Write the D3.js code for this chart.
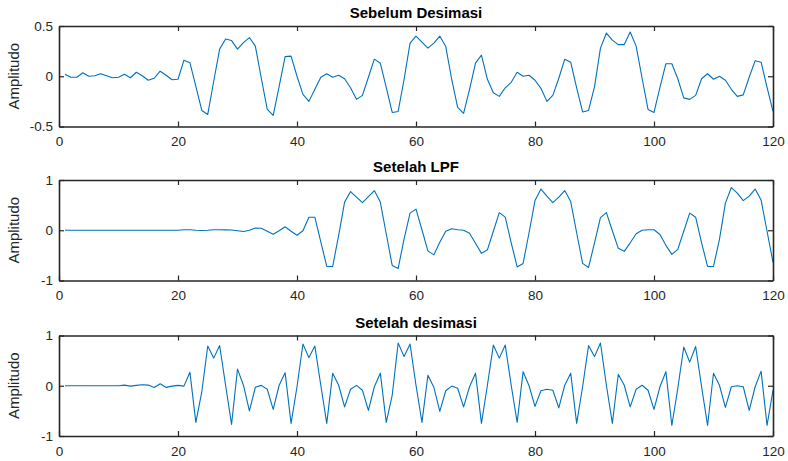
<!DOCTYPE html>
<html>
<head>
<meta charset="utf-8">
<script src="https://cdn.jsdelivr.net/npm/d3@7/dist/d3.min.js"></script>
<style>
  html, body { margin: 0; padding: 0; background: #ffffff; }
  svg { display: block; }
</style>
</head>
<body>
<svg id="chart" width="788" height="461"></svg>
<script>
// ---------- DATA ----------
const xTicks = [0, 20, 40, 60, 80, 100, 120];
const titles = ["Sebelum Desimasi", "Setelah LPF", "Setelah desimasi"];
const yLabel = "Amplitudo";
const yTicks1 = [-0.5, 0, 0.5];
const yTicks2 = [-1, 0, 1];
const yTicks3 = [-1, 0, 1];

const sebelum = [
  0.02, -0.01, -0.01, 0.035, 0.0, 0.005, 0.025, 0.005, -0.015, -0.01,
  0.02, -0.015, 0.04, 0.005, -0.04, -0.02, 0.05, 0.01, -0.035, -0.03,
  0.16, 0.135, -0.1, -0.34, -0.38, -0.05, 0.27, 0.37, 0.355, 0.27,
  0.335, 0.385, 0.3, -0.02, -0.33, -0.39, -0.1, 0.195, 0.2, 0.0,
  -0.18, -0.25, -0.13, -0.01, 0.025, -0.01, 0.01, -0.025, -0.115, -0.23,
  -0.19, -0.01, 0.17, 0.13, -0.11, -0.36, -0.35, -0.03, 0.33, 0.4,
  0.34, 0.28, 0.33, 0.4, 0.295, -0.03, -0.31, -0.37, -0.13, 0.13,
  0.21, -0.03, -0.165, -0.2, -0.115, -0.06, 0.04, 0.0, 0.01, -0.04,
  -0.12, -0.25, -0.19, -0.02, 0.17, 0.14, -0.115, -0.355, -0.34, -0.105,
  0.28, 0.43, 0.36, 0.315, 0.315, 0.44, 0.3, -0.02, -0.33, -0.36,
  -0.11, 0.125, 0.125, -0.025, -0.215, -0.23, -0.19, -0.025, 0.025, -0.03,
  0.0, -0.04, -0.13, -0.2, -0.185, -0.01, 0.155, 0.14, -0.11, -0.35
];

const setelahLPF = [
  0, 0, 0, 0, 0, 0, 0, 0, 0, 0,
  0, 0, 0, 0, 0, 0, 0, 0, 0.0, 0.0,
  0.01, 0.01, 0.0, -0.005, 0.0, 0.01, 0.01, 0.008, 0.005, -0.01,
  -0.025, 0.0, 0.045, 0.04, -0.02, -0.08, -0.01, 0.07, -0.02, -0.1,
  -0.01, 0.26, 0.26, -0.23, -0.72, -0.72, -0.1, 0.56, 0.77, 0.66,
  0.55, 0.67, 0.79, 0.56, -0.07, -0.70, -0.76, -0.17, 0.34, 0.42,
  0.01, -0.41, -0.49, -0.24, -0.02, 0.03, 0.01, 0.0, -0.06, -0.26,
  -0.46, -0.39, -0.02, 0.35, 0.26, -0.25, -0.73, -0.66, -0.05, 0.59,
  0.82, 0.68, 0.55, 0.66, 0.79, 0.57, -0.05, -0.66, -0.74, -0.25,
  0.25, 0.35, -0.01, -0.36, -0.42, -0.25, -0.07, 0.0, 0.01, 0.01,
  -0.085, -0.3, -0.48, -0.38, -0.02, 0.34, 0.26, -0.25, -0.72, -0.72,
  -0.18, 0.54, 0.85, 0.74, 0.59, 0.68, 0.82, 0.6, -0.02, -0.64
];

const setelahDesimasi = [
  0, 0, 0, 0, 0, 0, 0, 0, 0, 0,
  0.013, -0.007, 0.007, 0.02, 0.013, -0.033, 0.04, -0.033, -0.007, 0.007,
  -0.007, 0.27, -0.73, -0.12, 0.79, 0.55, 0.8, 0.01, -0.77, 0.33,
  0.01, -0.5, -0.03, 0.007, -0.07, -0.47, 0.01, 0.26, -0.75, -0.02,
  0.83, 0.56, 0.79, 0.01, -0.75, 0.25, 0.01, -0.42, -0.07, 0.007,
  -0.09, -0.49, -0.02, 0.25, -0.73, -0.19, 0.85, 0.58, 0.83, 0.01,
  -0.73, 0.21, -0.03, -0.51, -0.1, -0.007, -0.05, -0.42, -0.02, 0.25,
  -0.75, 0.01, 0.81, 0.55, 0.81, 0.01, -0.73, 0.28, 0.0, -0.41,
  -0.1, -0.07, -0.09, -0.44, 0.01, 0.25, -0.75, -0.02, 0.8, 0.58,
  0.85, 0.01, -0.75, 0.23, 0.01, -0.42, -0.07, 0.01, -0.09, -0.47,
  -0.02, 0.28, -0.79, -0.05, 0.77, 0.47, 0.78, -0.02, -0.79, 0.25,
  0.01, -0.43, -0.02, 0.0, -0.02, -0.49, -0.02, 0.29, -0.79, -0.09
];

// ---------- LAYOUT ----------
const W = 788, H = 461;
const left = 59, right = 773;
const panelTops = [26, 180, 335.5];
const panelH = 100.5;
const axisColor = "#262626";
const lineColor = "#0072BD";
const fontFam = "'Liberation Sans', Arial, Helvetica, sans-serif";

const panels = [
  { title: titles[0], data: sebelum, yDomain: [-0.5, 0.5], yTicks: yTicks1 },
  { title: titles[1], data: setelahLPF, yDomain: [-1, 1], yTicks: yTicks2 },
  { title: titles[2], data: setelahDesimasi, yDomain: [-1, 1], yTicks: yTicks3 }
];

const svg = d3.select("#chart");
svg.append("rect").attr("width", W).attr("height", H).attr("fill", "#fff");

const x = d3.scaleLinear().domain([0, 120]).range([left, right]);
const fmt = d => String(d);

panels.forEach((p, i) => {
  const top = panelTops[i], bottom = top + panelH;
  const y = d3.scaleLinear().domain(p.yDomain).range([bottom, top]);
  const g = svg.append("g");

  // line
  const line = d3.line().x((d, k) => x(k + 1)).y(d => y(d));
  g.append("path")
    .datum(p.data)
    .attr("d", line)
    .attr("fill", "none")
    .attr("stroke", lineColor)
    .attr("stroke-width", 1.1)
    .attr("stroke-linejoin", "round");

  // axes
  const styleAxis = sel => {
    sel.selectAll(".domain").attr("stroke", axisColor).attr("stroke-width", 1.6);
    sel.selectAll(".tick line").attr("stroke", axisColor).attr("stroke-width", 1.2);
    sel.selectAll(".tick text").attr("fill", axisColor)
      .style("font-family", fontFam).style("font-size", "13.5px");
  };

  g.append("g").attr("transform", `translate(0,${bottom})`)
    .call(d3.axisBottom(x).tickValues(xTicks).tickFormat(fmt).tickSize(-5).tickSizeOuter(0).tickPadding(10))
    .call(styleAxis);
  g.append("g").attr("transform", `translate(0,${top})`)
    .call(d3.axisTop(x).tickValues(xTicks).tickFormat("").tickSize(-5).tickSizeOuter(0))
    .call(styleAxis);
  g.append("g").attr("transform", `translate(${left},0)`)
    .call(d3.axisLeft(y).tickValues(p.yTicks).tickFormat(fmt).tickSize(-5).tickSizeOuter(0).tickPadding(6))
    .call(styleAxis);
  g.append("g").attr("transform", `translate(${right},0)`)
    .call(d3.axisRight(y).tickValues(p.yTicks).tickFormat("").tickSize(-5).tickSizeOuter(0))
    .call(styleAxis);

  g.selectAll(".tick text").attr("font-family", null);

  // title
  g.append("text")
    .attr("x", (left + right) / 2)
    .attr("y", top - 8)
    .attr("text-anchor", "middle")
    .style("font-family", fontFam)
    .style("font-size", "15px")
    .style("font-weight", "bold")
    .attr("fill", "#000")
    .text(p.title);

  // y label
  g.append("text")
    .attr("transform", `translate(19,${(top + bottom) / 2}) rotate(-90)`)
    .attr("text-anchor", "middle")
    .style("font-family", fontFam)
    .style("font-size", "15px")
    .attr("fill", axisColor)
    .text(yLabel);
});
</script>
</body>
</html>
